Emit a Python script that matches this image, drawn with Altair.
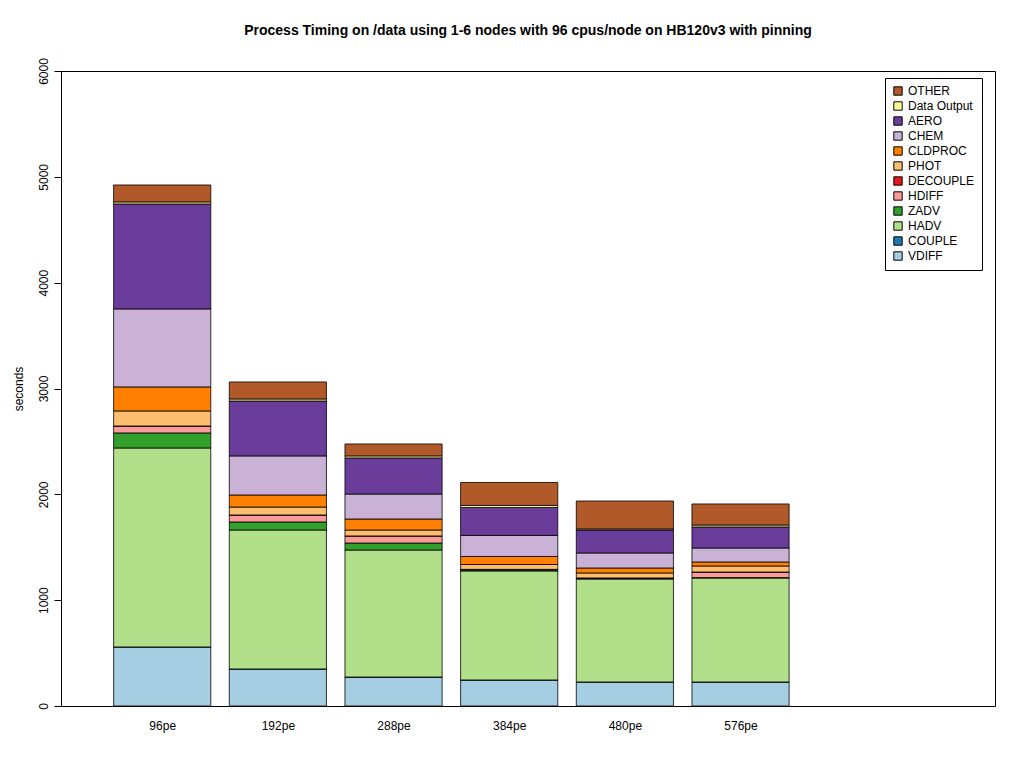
import altair as alt
import pandas as pd

runs = ["96pe", "192pe", "288pe", "384pe", "480pe", "576pe"]
series = ["VDIFF", "COUPLE", "HADV", "ZADV", "HDIFF", "DECOUPLE", "PHOT", "CLDPROC", "CHEM", "AERO", "Data Output", "OTHER"]
colors = ["#A6CEE3", "#1F78B4", "#B2DF8A", "#33A02C", "#FB9A99", "#E31A1C", "#FDBF6F", "#FF7F00", "#CAB2D6", "#6A3D9A", "#FFFF99", "#B15928"]
VDIFF = [558, 350, 274, 246, 227, 227]
COUPLE = [0, 0, 0, 0, 0, 0]
HADV = [1880, 1313, 1200, 1030, 973, 983]
ZADV = [142, 76, 66, 10, 5, 3]
HDIFF = [66, 66, 67, 5, 5, 53]
DECOUPLE = [0, 0, 0, 0, 0, 0]
PHOT = [142, 75, 56, 46, 47, 57]
CLDPROC = [227, 114, 104, 76, 47, 38]
CHEM = [737, 369, 236, 199, 142, 132]
AERO = [992, 519, 341, 264, 217, 199]
DATAOUT = [19, 19, 19, 19, 10, 18]
OTHER = [160, 161, 113, 217, 264, 199]
vals = [VDIFF, COUPLE, HADV, ZADV, HDIFF, DECOUPLE, PHOT, CLDPROC, CHEM, AERO, DATAOUT, OTHER]

rows = []
base = [0] * len(runs)
for si, (s, v) in enumerate(zip(series, vals)):
    for i, r in enumerate(runs):
        rows.append({"run": r, "lo": i - 0.42, "hi": i + 0.42, "series": s,
                     "y0": base[i], "y1": base[i] + v[i], "value": v[i]})
        base[i] += v[i]
df = pd.DataFrame(rows)

label_expr = "[" + ",".join(f"'{r}'" for r in runs) + "][datum.value]"

chart = alt.Chart(df).mark_rect(stroke="black", strokeWidth=0.8).encode(
    x=alt.X("lo:Q", scale=alt.Scale(domain=[-0.875, 7.2], nice=False, zero=False),
            axis=alt.Axis(values=list(range(6)), labelExpr=label_expr, title=None, ticks=False,
                          domain=False, grid=False, labelFontSize=12, labelPadding=14,
                          labelFont="Liberation Sans", labelColor="black")),
    x2="hi:Q",
    y=alt.Y("y0:Q", scale=alt.Scale(domain=[0, 6000], nice=False),
            axis=alt.Axis(values=[0, 1000, 2000, 3000, 4000, 5000, 6000], format="d", title="seconds", grid=False,
                          labelAngle=-90, labelAlign="center", labelBaseline="bottom", labelPadding=4,
                          tickSize=7, tickColor="black", domainColor="black", labelFontSize=12,
                          titleFontSize=12, titleFontWeight="normal", titlePadding=12,
                          labelFont="Liberation Sans", titleFont="Liberation Sans",
                          labelColor="black", titleColor="black")),
    y2="y1:Q",
    color=alt.Color("series:N", scale=alt.Scale(domain=series[::-1], range=colors[::-1]),
                    legend=alt.Legend(title=None, orient="none", legendX=824, legendY=7,
                                      symbolType="square", symbolStrokeColor="black", symbolStrokeWidth=1,
                                      symbolSize=70, symbolOpacity=1, labelFontSize=12, labelFont="Liberation Sans",
                                      labelColor="black", strokeColor="black", padding=7, rowPadding=1,
                                      fillColor="white", labelLimit=200)),
).properties(
    width=934, height=635,
    title=alt.Title("Process Timing on /data using 1-6 nodes with 96 cpus/node on HB120v3 with pinning",
                    font="Liberation Sans", fontSize=14, fontWeight="bold", offset=20, color="black"),
    padding={"left": 4, "top": 15, "right": 5, "bottom": 5},
).configure_view(stroke="black", strokeWidth=1)

chart.save("out.html", embed_options={"renderer": "svg", "actions": False})
